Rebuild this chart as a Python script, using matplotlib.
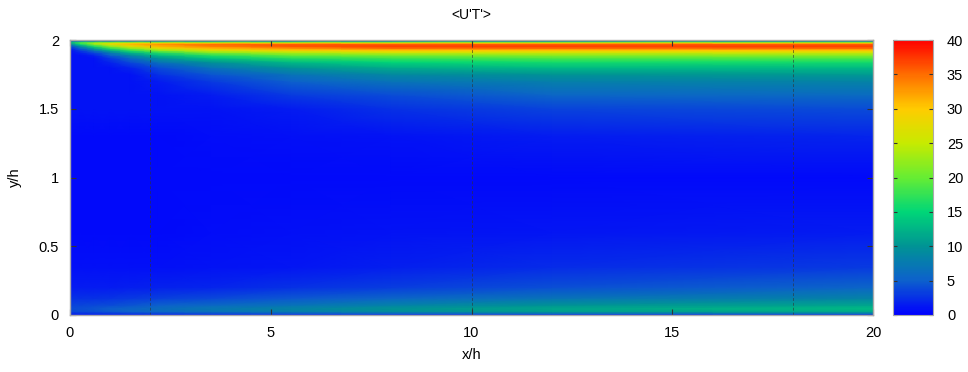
import numpy as np
import matplotlib
matplotlib.use("Agg")
import matplotlib.pyplot as plt
from matplotlib.colors import LinearSegmentedColormap

plt.rcParams['font.family'] = ['Liberation Sans', 'DejaVu Sans']

title = "<U'T'>"
x_label = "x/h"
y_label = "y/h"
x_ticks = [0, 5, 10, 15, 20]
y_ticks = [0, 0.5, 1, 1.5, 2]
y_tick_labels = ["0", "0.5", "1", "1.5", "2"]
cbar_ticks = [0, 5, 10, 15, 20, 25, 30, 35, 40]
dashed_x = [2, 10, 18]

# grid nodes of the field
x_nodes = [0, 0.25, 0.6, 1.0, 1.5, 2.2, 3.5, 5.5, 8, 12, 20]
y_nodes = [0.000, 0.010, 0.025, 0.045, 0.070, 0.120, 0.200, 0.350, 0.600, 1.000,
           1.300, 1.500, 1.600, 1.700, 1.750, 1.800, 1.840, 1.870, 1.890, 1.910,
           1.925, 1.940, 1.955, 1.970, 1.980, 1.987, 1.994, 2.000]

# <U'T'> values, one row per y node (bottom to top), one column per x node
row_y0000 = [1, 1, 1, 1, 1, 1, 1, 1, 1, 1, 1]
row_y0010 = [2, 2.2, 2.4, 2.6, 3, 3.3, 3.8, 4.5, 5, 6, 6.5]
row_y0025 = [3.5, 3.8, 4, 4.5, 5, 5.5, 6.5, 7.5, 9, 10.5, 11.5]
row_y0045 = [4, 4.2, 4.5, 5, 5.5, 6.2, 7.2, 8.5, 10, 11.5, 13]
row_y0070 = [3.5, 3.6, 3.8, 4, 4.4, 5, 5.8, 7, 8.3, 10, 11.5]
row_y0120 = [2.5, 2.5, 2.6, 2.8, 3, 3.3, 3.8, 4.6, 5.6, 7, 8.5]
row_y0200 = [1.5, 1.5, 1.5, 1.5, 1.6, 1.8, 2, 2.5, 3.2, 4.2, 5.5]
row_y0350 = [0.8, 0.8, 0.8, 0.8, 0.8, 0.8, 1, 1.2, 1.6, 2.2, 3]
row_y0600 = [0.5, 0.5, 0.5, 0.5, 0.5, 0.5, 0.7, 0.8, 1, 1.2, 1.5]
row_y1000 = [0.5, 0.5, 0.5, 0.5, 0.5, 0.5, 0.5, 0.5, 0.5, 0.5, 0.5]
row_y1300 = [0.5, 0.5, 0.5, 0.5, 0.5, 0.5, 0.7, 0.8, 1, 1.5, 2]
row_y1500 = [1, 1, 1, 1, 1, 1, 1, 1.5, 2.5, 3.5, 4]
row_y1600 = [1, 1, 1, 1, 1, 1, 1.5, 3, 4, 5.5, 6]
row_y1700 = [1, 1, 1, 1, 1, 1.5, 3, 5, 7, 8, 8.5]
row_y1750 = [1, 1, 1, 1, 1, 2.5, 4.5, 7, 9, 10, 10.5]
row_y1800 = [1, 1, 1, 1, 2, 4, 7, 10, 12, 13, 13]
row_y1840 = [1, 1, 1, 2, 4, 7, 10, 13, 15, 16, 16]
row_y1870 = [1, 1, 1, 3, 6, 10, 14, 17, 18, 19, 19]
row_y1890 = [1, 1, 2, 5, 9, 13, 17, 20, 21, 22, 22]
row_y1910 = [1, 2, 4, 8, 13, 17, 22, 24, 26, 26, 26]
row_y1925 = [1, 3, 7, 12, 17, 22, 26, 29, 30, 30, 30]
row_y1940 = [2, 5, 11, 17, 22, 27, 31, 33, 35, 35, 35]
row_y1955 = [4, 9, 16, 22, 27, 31, 34, 36, 37, 37, 37]
row_y1970 = [8, 15, 22, 27, 31, 33, 35, 36, 36, 36, 36]
row_y1980 = [12, 19, 24, 27, 29, 30, 30, 30, 30, 30, 30]
row_y1987 = [13, 17, 19, 20, 20, 20, 20, 20, 20, 20, 20]
row_y1994 = [6, 7, 8, 8, 8, 8, 8, 8, 8, 8, 8]
row_y2000 = [1, 1, 1, 1, 1, 1, 1, 1, 1, 1, 1]

field = np.array([row_y0000, row_y0010, row_y0025, row_y0045, row_y0070, row_y0120,
                  row_y0200, row_y0350, row_y0600, row_y1000, row_y1300, row_y1500,
                  row_y1600, row_y1700, row_y1750, row_y1800, row_y1840, row_y1870,
                  row_y1890, row_y1910, row_y1925, row_y1940, row_y1955, row_y1970,
                  row_y1980, row_y1987, row_y1994, row_y2000])

cmap = LinearSegmentedColormap.from_list("rb", [
    (0.000, (0.0, 0.0, 1.0)),
    (0.125, (0.05, 0.38, 0.80)),
    (0.250, (0.0, 0.58, 0.58)),
    (0.375, (0.0, 0.84, 0.47)),
    (0.500, (0.40, 0.93, 0.20)),
    (0.625, (0.78, 0.92, 0.0)),
    (0.750, (1.0, 0.80, 0.0)),
    (0.875, (1.0, 0.43, 0.0)),
    (1.000, (1.0, 0.0, 0.0)),
])

fig = plt.figure(figsize=(9.68, 3.72), dpi=100)
ax = fig.add_axes([70/968, 57/372, 803/968, 275/372])
cax = fig.add_axes([893/968, 57/372, 40/968, 275/372])

X, Y = np.meshgrid(x_nodes, y_nodes)
mesh = ax.pcolormesh(X, Y, field, shading='gouraud', cmap=cmap, vmin=0, vmax=40,
                     rasterized=True)
for xd in dashed_x:
    ax.axvline(xd, color='#333333', lw=0.7, ls=(0, (3, 2)), alpha=0.6)

ax.set_xlim(0, 20)
ax.set_ylim(0, 2)
ax.set_xticks(x_ticks)
ax.set_xticklabels([str(t) for t in x_ticks])
ax.set_yticks(y_ticks)
ax.set_yticklabels(y_tick_labels)
ax.tick_params(direction='in', length=4, width=0.8, color='#333333',
               top=True, right=True, labelsize=10.5, pad=8)
for s in ax.spines.values():
    s.set_color('#aaaaaa')
    s.set_linewidth(1.0)
ax.set_xlabel(x_label, fontsize=10.5, labelpad=6)
ax.set_ylabel(y_label, fontsize=10.5, labelpad=12)
ax.set_title(title, fontsize=10, pad=15)

cb = fig.colorbar(mesh, cax=cax, ticks=cbar_ticks)
cb.outline.set_edgecolor('#aaaaaa')
cax.tick_params(direction='in', length=3, width=0.8, color='#333333',
                left=True, right=True, labelsize=10.5, pad=10)

fig.savefig("out.png", dpi=100)
